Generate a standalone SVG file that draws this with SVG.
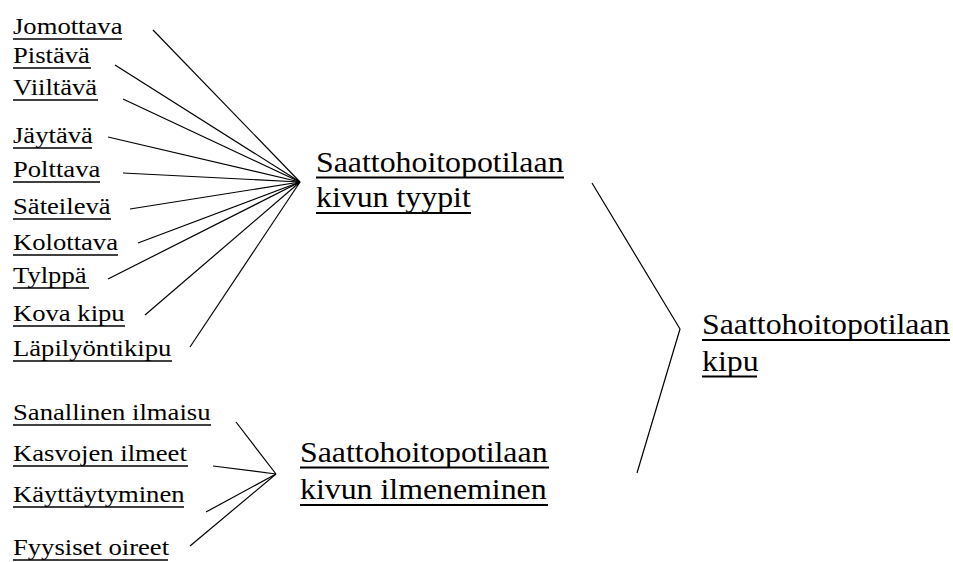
<svg xmlns="http://www.w3.org/2000/svg" width="953" height="562" viewBox="0 0 953 562">
<style>
text{font-family:'Liberation Serif','Times New Roman',Times,'DejaVu Serif',serif}
.s{font-size:24px}
.b{font-size:28.7px}
.ul{stroke:#000;stroke-width:1.4}
.ulb{stroke:#000;stroke-width:1.8}
.c{stroke:#000;stroke-width:1.2;fill:none}
</style>
<rect width="953" height="562" fill="#fff"/>
<g id="connectors">
<line class="c" x1="153" y1="30" x2="300" y2="182"/>
<line class="c" x1="115" y1="65" x2="300" y2="182"/>
<line class="c" x1="123" y1="99" x2="300" y2="182"/>
<line class="c" x1="108" y1="137" x2="300" y2="182"/>
<line class="c" x1="123" y1="173" x2="300" y2="182"/>
<line class="c" x1="130" y1="209" x2="300" y2="182"/>
<line class="c" x1="138" y1="243" x2="300" y2="182"/>
<line class="c" x1="108" y1="279" x2="300" y2="182"/>
<line class="c" x1="145" y1="315" x2="300" y2="182"/>
<line class="c" x1="190" y1="347" x2="300" y2="182"/>
<line class="c" x1="236" y1="422" x2="276" y2="474"/>
<line class="c" x1="213" y1="466" x2="276" y2="474"/>
<line class="c" x1="206" y1="512" x2="276" y2="474"/>
<line class="c" x1="190" y1="546" x2="276" y2="474"/>
<polyline class="c" points="592,183 680,329 637,473"/>
</g>
<g fill="#000" style="font-family:'Liberation Serif',serif">
<g id="n-jomottava"><text class="s" style="font-family:'Liberation Serif',serif" transform="translate(13,34) scale(1.11,1)">Jomottava</text><line class="ul" x1="13" y1="39" x2="122" y2="39"/></g>
<g id="n-pistava"><text class="s" transform="translate(13,63) scale(1.11,1)">Pistävä</text><line class="ul" x1="13" y1="68" x2="91" y2="68"/></g>
<g id="n-viiltava"><text class="s" transform="translate(13,95) scale(1.11,1)">Viiltävä</text><line class="ul" x1="13" y1="100" x2="98" y2="100"/></g>
<g id="n-jaytava"><text class="s" transform="translate(13,143) scale(1.11,1)">Jäytävä</text><line class="ul" x1="13" y1="148" x2="92" y2="148"/></g>
<g id="n-polttava"><text class="s" transform="translate(13,177) scale(1.11,1)">Polttava</text><line class="ul" x1="13" y1="182" x2="100" y2="182"/></g>
<g id="n-sateileva"><text class="s" transform="translate(13,214) scale(1.11,1)">Säteilevä</text><line class="ul" x1="13" y1="219" x2="111" y2="219"/></g>
<g id="n-kolottava"><text class="s" transform="translate(13,250) scale(1.11,1)">Kolottava</text><line class="ul" x1="13" y1="255" x2="118" y2="255"/></g>
<g id="n-tylppa"><text class="s" transform="translate(13,283) scale(1.11,1)">Tylppä</text><line class="ul" x1="13" y1="288" x2="89" y2="288"/></g>
<g id="n-kovakipu"><text class="s" transform="translate(13,321) scale(1.11,1)">Kova kipu</text><line class="ul" x1="13" y1="326" x2="125" y2="326"/></g>
<g id="n-lapilyontikipu"><text class="s" transform="translate(13,356) scale(1.11,1)">Läpilyöntikipu</text><line class="ul" x1="13" y1="361" x2="172" y2="361"/></g>
<g id="n-sanallinen"><text class="s" transform="translate(13,420) scale(1.11,1)">Sanallinen ilmaisu</text><line class="ul" x1="13" y1="425" x2="211" y2="425"/></g>
<g id="n-kasvojen"><text class="s" transform="translate(13,461) scale(1.11,1)">Kasvojen ilmeet</text><line class="ul" x1="13" y1="466" x2="188" y2="466"/></g>
<g id="n-kayttaytyminen"><text class="s" transform="translate(13,502) scale(1.11,1)">Käyttäytyminen</text><line class="ul" x1="13" y1="507" x2="184" y2="507"/></g>
<g id="n-fyysiset"><text class="s" transform="translate(13,555) scale(1.11,1)">Fyysiset oireet</text><line class="ul" x1="13" y1="560" x2="168" y2="560"/></g>
<g id="n-tyypit"><text class="b" transform="translate(316,0) scale(1.11,1)"><tspan x="0" y="172">Saattohoitopotilaan</tspan><tspan x="0" y="207.5">kivun tyypit</tspan></text><line class="ulb" x1="316" y1="177.5" x2="564" y2="177.5"/><line class="ulb" x1="316" y1="213" x2="471" y2="213"/></g>
<g id="n-ilmeneminen"><text class="b" transform="translate(300,0) scale(1.11,1)"><tspan x="0" y="462">Saattohoitopotilaan</tspan><tspan x="0" y="499">kivun ilmeneminen</tspan></text><line class="ulb" x1="300" y1="467.5" x2="549" y2="467.5"/><line class="ulb" x1="300" y1="505" x2="548" y2="505"/></g>
<g id="n-kipu"><text class="b" transform="translate(702,0) scale(1.11,1)"><tspan x="0" y="334.5">Saattohoitopotilaan</tspan><tspan x="0" y="371">kipu</tspan></text><line class="ulb" x1="702" y1="340" x2="950" y2="340"/><line class="ulb" x1="702" y1="376.5" x2="757" y2="376.5"/></g>
</g>
</svg>
